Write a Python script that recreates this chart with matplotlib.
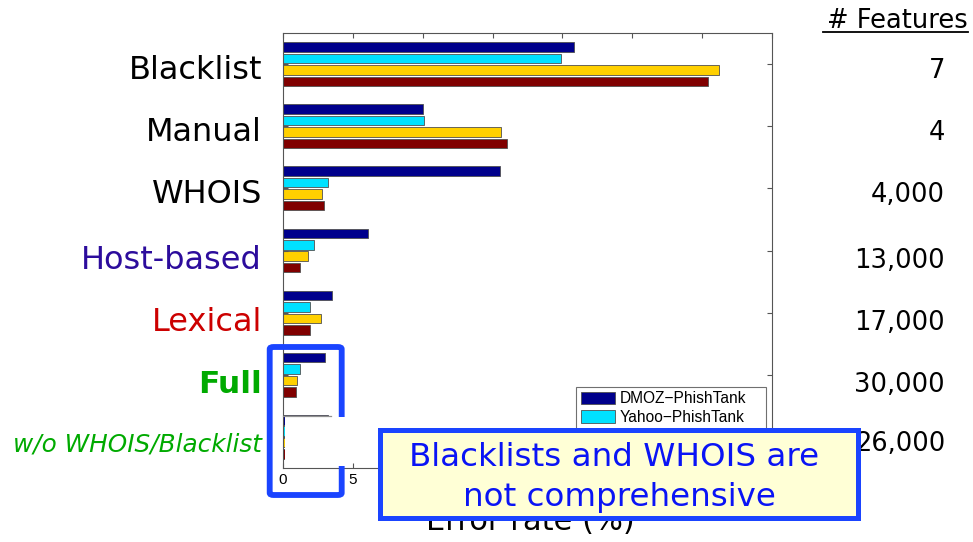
import numpy as np
import matplotlib
matplotlib.use('Agg')
from matplotlib import pyplot as plt
from matplotlib.patches import Rectangle, FancyBboxPatch
from matplotlib.lines import Line2D
import matplotlib.transforms as mtransforms

# Error rates (%) per feature set, one list per dataset
categories = ['Blacklist', 'Manual', 'WHOIS', 'Host-based', 'Lexical', 'Full',
              'w/o WHOIS/Blacklist']
n_features = ['7', '4', '4,000', '13,000', '17,000', '30,000', '26,000']
dmoz_phish = [20.8, 10.05, 15.5, 6.07, 3.48, 3.03, 3.2]
yahoo_phish = [19.9, 10.1, 3.24, 2.24, 1.93, 1.24, 1.5]
dmoz_spam = [31.2, 15.6, 2.8, 1.79, 2.71, 1.0, 1.2]
yahoo_spam = [30.4, 16.0, 2.9, 1.24, 1.93, 0.9, 1.1]
series_names = ['DMOZ\u2212PhishTank', 'Yahoo\u2212PhishTank',
                'DMOZ\u2212Spamscatter', 'Yahoo\u2212Spamscatter']
series_colors = ['#00008c', '#00e1ff', '#ffd000', '#800000']
xticks = [0, 5, 10, 15, 20, 25, 30, 35]

label_colors = ['black', 'black', 'black', '#2c0c9c', '#cc0000', '#00aa00', '#00aa00']

W, H = 973, 542
def fx(x): return x / W
def fy(y): return 1 - y / H

fig = plt.figure(figsize=(9.73, 5.42), dpi=100)
ax = fig.add_axes([fx(283), fy(468), fx(772) - fx(283), fy(33) - fy(468)])

pos = np.arange(1, len(categories) + 1)
step = 0.184
for i, (vals, name, col) in enumerate(zip([dmoz_phish, yahoo_phish, dmoz_spam, yahoo_spam],
                                           series_names, series_colors)):
    ax.barh(pos + (i - 1.5) * step, vals, height=0.152, color=col,
            edgecolor='#505050', linewidth=0.6, label=name)

ax.set_xlim(0, 35)
ax.set_ylim(7.5, 0.5)
ax.set_xticks(xticks)
ax.set_yticks(pos)
ax.set_yticklabels([])
ax.tick_params(axis='both', direction='in', length=3.5, width=0.8, color='#555555',
               top=True, right=True, labelsize=11)
for lab in ax.get_xticklabels():
    lab.set_fontfamily('Liberation Sans')
for s in ax.spines.values():
    s.set_color('#555555')
    s.set_linewidth(0.8)

leg = ax.legend(loc='upper right', bbox_to_anchor=(0.988, 0.187), borderaxespad=0,
                fancybox=False, edgecolor='#707070', framealpha=1,
                prop={'family': 'Liberation Sans', 'size': 11.2},
                handlelength=2.2, handleheight=0.85, labelspacing=0.22,
                handletextpad=0.3, borderpad=0.3)
leg.get_frame().set_linewidth(0.8)

# category names on the left, feature counts on the right
tr = mtransforms.blended_transform_factory(ax.transAxes, ax.transData)
for i, (name, col) in enumerate(zip(categories, label_colors)):
    kw = dict(fontsize=23, color=col, family='DejaVu Sans')
    off = 0.24 if i < 3 else 0.3
    if name == 'Full':
        kw.update(fontweight='bold', fontsize=22.5)
    if name.startswith('w/o'):
        kw.update(style='italic', fontsize=17.8)
        off = 0.24
    ax.text(-0.043, pos[i] + off, name, transform=tr, ha='right', va='baseline',
            clip_on=False, **kw)
    ax.text(1.354, pos[i] + off - 0.02, n_features[i], transform=tr, ha='right',
            va='baseline', fontsize=18.5, color='black', clip_on=False)

fig.text(fx(968), fy(28), '# Features', ha='right', va='baseline', fontsize=18.5)
fig.add_artist(Line2D([fx(823), fx(968)], [fy(32), fy(32)], color='black', lw=1.3))

fig.text(fx(530), fy(530), 'Error rate (%)', ha='center', va='baseline', fontsize=22)

# blue bracket around the Full bars
fig.add_artist(FancyBboxPatch((fx(269.7), fy(495)), fx(341.7) - fx(269.7), fy(347) - fy(495),
                              boxstyle='round,pad=0,rounding_size=0.004',
                              transform=fig.transFigure, fill=False,
                              edgecolor='#1a44ff', lw=4.2, zorder=5))
# white mask over the last group
fig.add_artist(Rectangle((fx(284.5), fy(466)), fx(347) - fx(284.5), fy(416.5) - fy(466),
                         transform=fig.transFigure, facecolor='white', edgecolor='none',
                         zorder=6))
fig.add_artist(Line2D([fx(283), fx(331)], [fy(416), fy(416)], color='#909090', lw=0.9,
                      zorder=6))

# callout
fig.add_artist(Rectangle((fx(379.5), fy(517.5)), fx(857.5) - fx(379.5), fy(429.5) - fy(517.5),
                         transform=fig.transFigure, facecolor='#ffffd6',
                         edgecolor='#1a44ff', lw=3.6, zorder=7))
fig.text(fx(614), fy(466.5), 'Blacklists and WHOIS are', ha='center', va='baseline',
         fontsize=23.4, color='#0a14f5', zorder=8)
fig.text(fx(619), fy(506), 'not comprehensive', ha='center', va='baseline',
         fontsize=23.4, color='#0a14f5', zorder=8)

fig.savefig('out.png', dpi=100)
